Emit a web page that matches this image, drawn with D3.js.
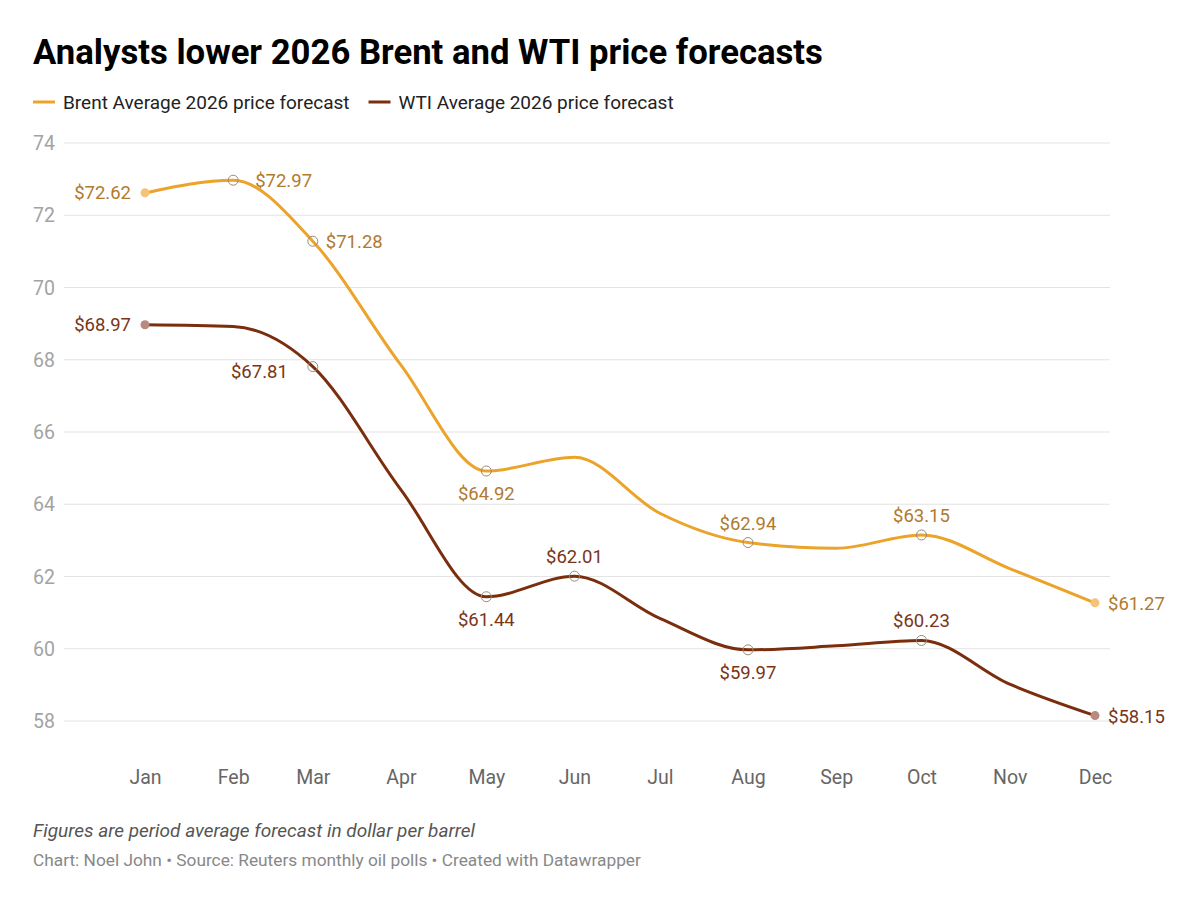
<!DOCTYPE html>
<html><head><meta charset="utf-8">
<script src="https://cdn.jsdelivr.net/npm/d3@7"></script>
<style>body{margin:0;background:#fff;font-family:Roboto,"Noto Sans",sans-serif;}</style>
</head><body><svg id="c" width="1200" height="904"></svg>
<script>
const months = ["Jan","Feb","Mar","Apr","May","Jun","Jul","Aug","Sep","Oct","Nov","Dec"];
const brent = [72.62,72.97,71.28,67.85,64.92,65.3,63.75,62.94,62.78,63.15,62.22,61.27];
const wti   = [68.97,68.92,67.81,64.4,61.44,62.01,60.84,59.97,60.08,60.23,59.02,58.15];
const yTicks = [58,60,62,64,66,68,70,72,74];
// label placement per point: null = none
const brentLabels = ["left","rightfar","right",null,"below",null,null,"above",null,"above",null,"right"];
const wtiLabels   = ["left",null,"leftbelow",null,"below","above",null,"below",null,"above",null,"right"];

const svg = d3.select("#c");
const x = d3.scaleTime().domain([new Date(2026,0,1), new Date(2026,11,1)]).range([145,1095]);
const y = d3.scaleLinear().domain([58,74]).range([721,143]);
const dates = months.map((m,i)=>new Date(2026,i,1));

svg.append("text").attr("x",33).attr("y",64).attr("font-size",34.7).attr("font-weight",700)
  .attr("fill","#000").text("Analysts lower 2026 Brent and WTI price forecasts");

const series = [
  {name:"Brent Average 2026 price forecast", vals:brent, labels:brentLabels, color:"#eba32a", text:"#b27a2c", end:"#f5c27a"},
  {name:"WTI Average 2026 price forecast", vals:wti, labels:wtiLabels, color:"#7b2e0d", text:"#7a3518", end:"#b88a80"}
];
// legend
const lg = svg.append("g");
let lx = 33;
series.forEach(s=>{
  lg.append("line").attr("x1",lx).attr("x2",lx+22).attr("y1",102).attr("y2",102).attr("stroke",s.color).attr("stroke-width",3);
  const t = lg.append("text").attr("x",lx+30).attr("y",108.5).attr("font-size",19).attr("fill","#222").text(s.name);
  lx += 30 + t.node().getComputedTextLength() + 19;
});

// grid
const g = svg.append("g");
g.selectAll("line.grid").data(yTicks).join("line")
  .attr("x1",64).attr("x2",1110).attr("y1",d=>y(d)).attr("y2",d=>y(d))
  .attr("stroke","#e3e3e3").attr("stroke-width",1);
g.selectAll("text.yl").data(yTicks).join("text")
  .attr("x",33).attr("y",d=>y(d)+7).attr("font-size",19.5).attr("fill","#a3a3a3").text(d=>d);
// x axis
const xa = svg.append("g").attr("transform","translate(0,760)")
  .call(d3.axisBottom(x).tickValues(dates).tickFormat(d3.timeFormat("%b")).tickSize(0).tickPadding(10));
xa.select(".domain").remove();
xa.selectAll("text").attr("font-size",19.5).attr("fill","#666").attr("font-family","Roboto");

const line = d3.line().x((d,i)=>x(dates[i])).y(d=>y(d)).curve(d3.curveMonotoneX);
series.forEach(s=>{
  svg.append("path").attr("d",line(s.vals)).attr("fill","none").attr("stroke",s.color).attr("stroke-width",3).attr("stroke-linecap","round");
});
series.forEach(s=>{
  s.vals.forEach((v,i)=>{
    const pos = s.labels[i]; if(!pos) return;
    const px = x(dates[i]), py = y(v);
    const endpt = (i===0||i===s.vals.length-1);
    if(endpt){
      svg.append("circle").attr("cx",px).attr("cy",py).attr("r",4.5).attr("fill",s.end);
    } else {
      svg.append("circle").attr("cx",px).attr("cy",py).attr("r",5).attr("fill","none").attr("stroke","#9a8a7a").attr("stroke-width",1);
    }
    const t = svg.append("text").attr("font-size",18.5).attr("fill",s.text).text("$"+v.toFixed(2));
    if(pos==="left") t.attr("x",px-14).attr("y",py+6).attr("text-anchor","end");
    else if(pos==="right") t.attr("x",px+13).attr("y",py+7).attr("text-anchor","start");
    else if(pos==="rightfar") t.attr("x",px+22).attr("y",py+7).attr("text-anchor","start");
    else if(pos==="below") t.attr("x",px).attr("y",py+29).attr("text-anchor","middle");
    else if(pos==="above") t.attr("x",px).attr("y",py-13).attr("text-anchor","middle");
    else if(pos==="leftbelow") t.attr("x",px-25).attr("y",py+11).attr("text-anchor","end");
  });
});
svg.append("text").attr("x",33).attr("y",837).attr("font-size",19).attr("font-style","italic").attr("fill","#555")
  .text("Figures are period average forecast in dollar per barrel");
svg.append("text").attr("x",33).attr("y",866).attr("font-size",17.3).attr("fill","#888")
  .text("Chart: Noel John • Source: Reuters monthly oil polls • Created with Datawrapper");
</script></body></html>
